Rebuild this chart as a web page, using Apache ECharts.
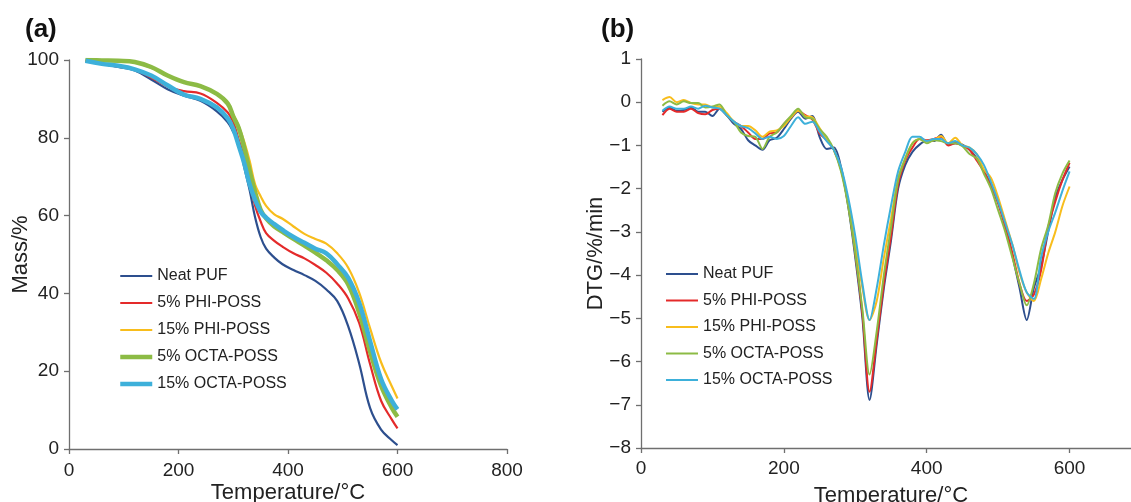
<!DOCTYPE html>
<html>
<head>
<meta charset="utf-8">
<script src="https://cdn.jsdelivr.net/npm/echarts@6/dist/echarts.min.js"></script>
<style>
  html, body { margin: 0; padding: 0; background: #fff; }
  #chart { width: 1131px; height: 502px; }
</style>
</head>
<body>
<div id="chart"></div>
<script>
// ---- data ----
const seriesNames = ['Neat PUF', '5% PHI-POSS', '15% PHI-POSS', '5% OCTA-POSS', '15% OCTA-POSS'];

// (a) TGA mass loss
const tgaTemp = [30, 60, 90, 120, 150, 180, 210, 240, 270, 290, 300, 310, 320, 330, 340, 350, 360, 375, 390, 410, 430, 450, 470, 490, 510, 530, 550, 570, 590, 600];
const tgaNeat   = [99.7, 99, 98.2, 97.3, 95, 92.5, 90.8, 89.5, 86.8, 84, 81.5, 78.8, 72.5, 66.5, 59.5, 54.5, 51.5, 49.2, 47.5, 46, 44.7, 43.2, 41, 38, 31.5, 22, 10.5, 5, 2.2, 1];
const tgaPhi5   = [99.7, 99, 98.3, 97.5, 95.5, 93.2, 92, 91.4, 89, 86.5, 84, 79.5, 75, 68.5, 62.5, 58.5, 55.5, 53.5, 52, 50.3, 49, 47.3, 45.3, 42.5, 38.7, 32.4, 21.8, 12.4, 7.5, 5.3];
const tgaPhi15  = [99.9, 99.9, 99.8, 99.4, 98, 96, 94.4, 93.4, 91.4, 88.8, 86, 83, 79, 74, 68, 65, 62.5, 60.3, 59.2, 57.2, 55.3, 54, 52.8, 50.3, 46.6, 40.2, 31, 22.3, 16, 13];
const tgaOcta5  = [100, 99.9, 99.8, 99.5, 98.2, 96, 94.3, 93.3, 91.3, 88.8, 85.5, 82.5, 77.5, 71.5, 66, 61.5, 59.3, 57.2, 55.8, 54, 52.3, 50.5, 48.5, 46, 42.3, 35, 25, 16.3, 10.5, 8.3];
const tgaOcta15 = [99.8, 99, 98.5, 97.6, 96, 93.5, 91.1, 90, 87.8, 85, 82.3, 78, 73.5, 68, 64, 61, 59.5, 57.8, 56.3, 54.5, 53, 51.5, 50.3, 47.5, 44, 37.6, 27.7, 18, 12.3, 10.2];

// (b) DTG
const dtgTemp = [30, 40, 50, 60, 70, 80, 90, 100, 110, 120, 130, 140, 150, 160, 170, 180, 190, 200, 210, 220, 230, 240, 250, 260, 270, 280, 290, 300, 310, 320, 330, 340, 350, 360, 370, 380, 390, 400, 410, 420, 430, 440, 450, 460, 470, 480, 490, 500, 510, 520, 530, 540, 550, 560, 570, 580, 590, 600];
const dtgNeat   = [-0.22, -0.12, -0.2, -0.18, -0.12, -0.22, -0.22, -0.32, -0.15, -0.3, -0.5, -0.62, -0.88, -1.0, -1.1, -0.88, -0.82, -0.62, -0.38, -0.22, -0.38, -0.32, -0.8, -1.08, -1.05, -1.5, -2.4, -3.6, -5.0, -6.89, -5.6, -4.3, -3.2, -2.0, -1.45, -1.15, -0.98, -0.9, -0.9, -0.75, -0.98, -0.95, -0.98, -1.1, -1.3, -1.6, -1.9, -2.3, -2.8, -3.55, -4.3, -5.04, -4.3, -3.8, -3.0, -2.2, -1.8, -1.49];
const dtgPhi5   = [-0.3, -0.15, -0.22, -0.22, -0.15, -0.25, -0.28, -0.18, -0.15, -0.3, -0.45, -0.55, -0.7, -0.85, -0.85, -0.72, -0.7, -0.5, -0.35, -0.2, -0.3, -0.4, -0.72, -0.88, -1.1, -1.55, -2.35, -3.5, -4.9, -6.7, -5.5, -4.2, -3.1, -1.9, -1.35, -1.05, -0.85, -0.88, -0.85, -0.8, -1.0, -0.95, -1.0, -1.1, -1.35, -1.6, -1.95, -2.35, -2.9, -3.5, -4.2, -4.6, -4.45, -3.9, -2.9, -2.3, -1.8, -1.4];
const dtgPhi15  = [0.05, 0.12, 0.0, 0.05, -0.02, -0.05, -0.05, -0.12, -0.1, -0.25, -0.45, -0.55, -0.55, -0.65, -0.8, -0.68, -0.65, -0.55, -0.35, -0.2, -0.32, -0.35, -0.6, -0.85, -1.1, -1.55, -2.3, -3.3, -4.3, -5.04, -4.6, -3.6, -2.7, -1.75, -1.3, -0.95, -0.85, -0.9, -0.88, -0.78, -0.95, -0.82, -1.0, -1.05, -1.2, -1.55, -1.75, -2.2, -2.75, -3.3, -3.95, -4.4, -4.6, -4.1, -3.5, -3.0, -2.4, -1.95];
const dtgOcta5  = [-0.08, 0.02, -0.05, 0.02, -0.02, -0.02, -0.12, -0.1, -0.05, -0.3, -0.45, -0.7, -0.78, -0.8, -1.08, -0.8, -0.7, -0.5, -0.32, -0.15, -0.35, -0.38, -0.62, -0.8, -1.1, -1.6, -2.4, -3.5, -4.8, -6.3, -5.3, -4.0, -2.9, -1.8, -1.3, -0.95, -0.85, -0.95, -0.88, -0.9, -0.95, -0.95, -1.02, -1.2, -1.3, -1.65, -2.0, -2.5, -3.0, -3.6, -4.2, -4.7, -4.2, -3.4, -2.85, -2.1, -1.65, -1.35];
const dtgOcta15 = [-0.2, -0.1, -0.15, -0.15, -0.1, -0.15, -0.08, -0.12, -0.15, -0.3, -0.45, -0.55, -0.6, -0.72, -0.85, -0.8, -0.85, -0.78, -0.55, -0.35, -0.5, -0.45, -0.68, -0.9, -1.1, -1.5, -2.2, -3.1, -4.2, -5.04, -4.3, -3.3, -2.4, -1.6, -1.15, -0.8, -0.8, -0.9, -0.85, -0.85, -0.95, -0.9, -1.0, -1.05, -1.2, -1.45, -1.85, -2.3, -2.8, -3.3, -3.9, -4.4, -4.55, -3.6, -3.0, -2.55, -2.05, -1.6];

const xTicksA = [0, 200, 400, 600, 800];
const colors = ['#2d4f8e', '#e42a2a', '#f8bd1c', '#8cbb45', '#3db0da'];
const widthsA = [2.2, 2.2, 2.2, 4.5, 4.5];

// ---- chart ----
const FONT = '"Liberation Sans", Arial, Helvetica, sans-serif';
const chart = echarts.init(document.getElementById('chart'), null, { renderer: 'canvas' });

const zip = (xs, ys) => xs.map((x, i) => [x, ys[i]]);
const tgaData = [tgaNeat, tgaPhi5, tgaPhi15, tgaOcta5, tgaOcta15];
const dtgData = [dtgNeat, dtgPhi5, dtgPhi15, dtgOcta5, dtgOcta15];

const axisLine = { show: true, onZero: false, lineStyle: { color: '#6f6f6f', width: 1.3 } };
const axisTick = { show: true, length: 5, lineStyle: { color: '#6f6f6f', width: 1.3 } };
const labelStyle = { color: '#222', fontSize: 19, fontFamily: FONT };
const nameStyle = { color: '#222', fontSize: 22, fontFamily: FONT };
const minus = v => (v < 0 ? '\u2212' + Math.abs(v) : String(v));

const series = [];
seriesNames.forEach((name, i) => {
  series.push({
    name, type: 'line', xAxisIndex: 0, yAxisIndex: 0,
    data: zip(tgaTemp, tgaData[i]), smooth: 0.4, symbol: 'none',
    lineStyle: { color: colors[i], width: widthsA[i] }, itemStyle: { color: colors[i] },
    animation: false
  });
});
seriesNames.forEach((name, i) => {
  series.push({
    name, type: 'line', xAxisIndex: 1, yAxisIndex: 1,
    data: zip(dtgTemp, dtgData[i]), smooth: 0.3, symbol: 'none',
    lineStyle: { color: colors[i], width: 2 }, itemStyle: { color: colors[i] },
    animation: false
  });
});

const legendText = { fontSize: 16, color: '#222', fontFamily: FONT, lineHeight: 18 };

const option = {
  backgroundColor: '#fff',
  animation: false,
  title: [
    { text: '(a)', left: 20, top: 12, textStyle: { fontSize: 26, fontWeight: 'bold', color: '#111', fontFamily: FONT } },
    { text: '(b)', left: 596, top: 12, textStyle: { fontSize: 26, fontWeight: 'bold', color: '#111', fontFamily: FONT } }
  ],
  grid: [
    { left: 69, top: 60, width: 438, height: 389, outerBoundsMode: 'none' },
    { left: 641, top: 59, width: 500, height: 389, outerBoundsMode: 'none' }
  ],
  legend: [
    {
      orient: 'vertical', left: 118, top: 267, padding: 0, itemWidth: 32, itemHeight: 14, itemGap: 9,
      itemStyle: { opacity: 0 }, textStyle: legendText,
      data: seriesNames.map((n, i) => ({ name: n, lineStyle: { width: widthsA[i] } }))
    },
    {
      orient: 'vertical', left: 665, top: 265, padding: 0, itemWidth: 32, itemHeight: 14, itemGap: 8.5,
      itemStyle: { opacity: 0 }, textStyle: legendText,
      data: seriesNames.map(n => ({ name: n, lineStyle: { width: 2 } }))
    }
  ],
  xAxis: [
    {
      gridIndex: 0, type: 'value', min: xTicksA[0], max: xTicksA[xTicksA.length - 1], interval: 200,
      name: 'Temperature/°C', nameLocation: 'middle', nameGap: 33, nameMoveOverlap: false, nameTextStyle: nameStyle,
      axisLine, axisTick, splitLine: { show: false },
      axisLabel: { ...labelStyle, margin: 12 }
    },
    {
      gridIndex: 1, type: 'value', min: 0, max: 700, interval: 200,
      name: 'Temperature/°C', nameLocation: 'middle', nameGap: 37, nameMoveOverlap: false, nameTextStyle: nameStyle,
      axisLine, axisTick, splitLine: { show: false },
      axisLabel: { ...labelStyle, margin: 11, showMaxLabel: false }
    }
  ],
  yAxis: [
    {
      gridIndex: 0, type: 'value', min: 0, max: 100, interval: 20,
      name: 'Mass/%', nameLocation: 'middle', nameGap: 37, nameMoveOverlap: false, nameTextStyle: nameStyle,
      axisLine, axisTick, splitLine: { show: false },
      axisLabel: { ...labelStyle, margin: 10 }
    },
    {
      gridIndex: 1, type: 'value', min: -8, max: 1, interval: 1,
      name: 'DTG/%/min', nameLocation: 'middle', nameGap: 34, nameMoveOverlap: false, nameTextStyle: nameStyle,
      axisLine, axisTick, splitLine: { show: false },
      axisLabel: { ...labelStyle, margin: 10, formatter: minus }
    }
  ],
  series
};

chart.setOption(option);
window.addEventListener('resize', () => chart.resize());
</script>
</body>
</html>
